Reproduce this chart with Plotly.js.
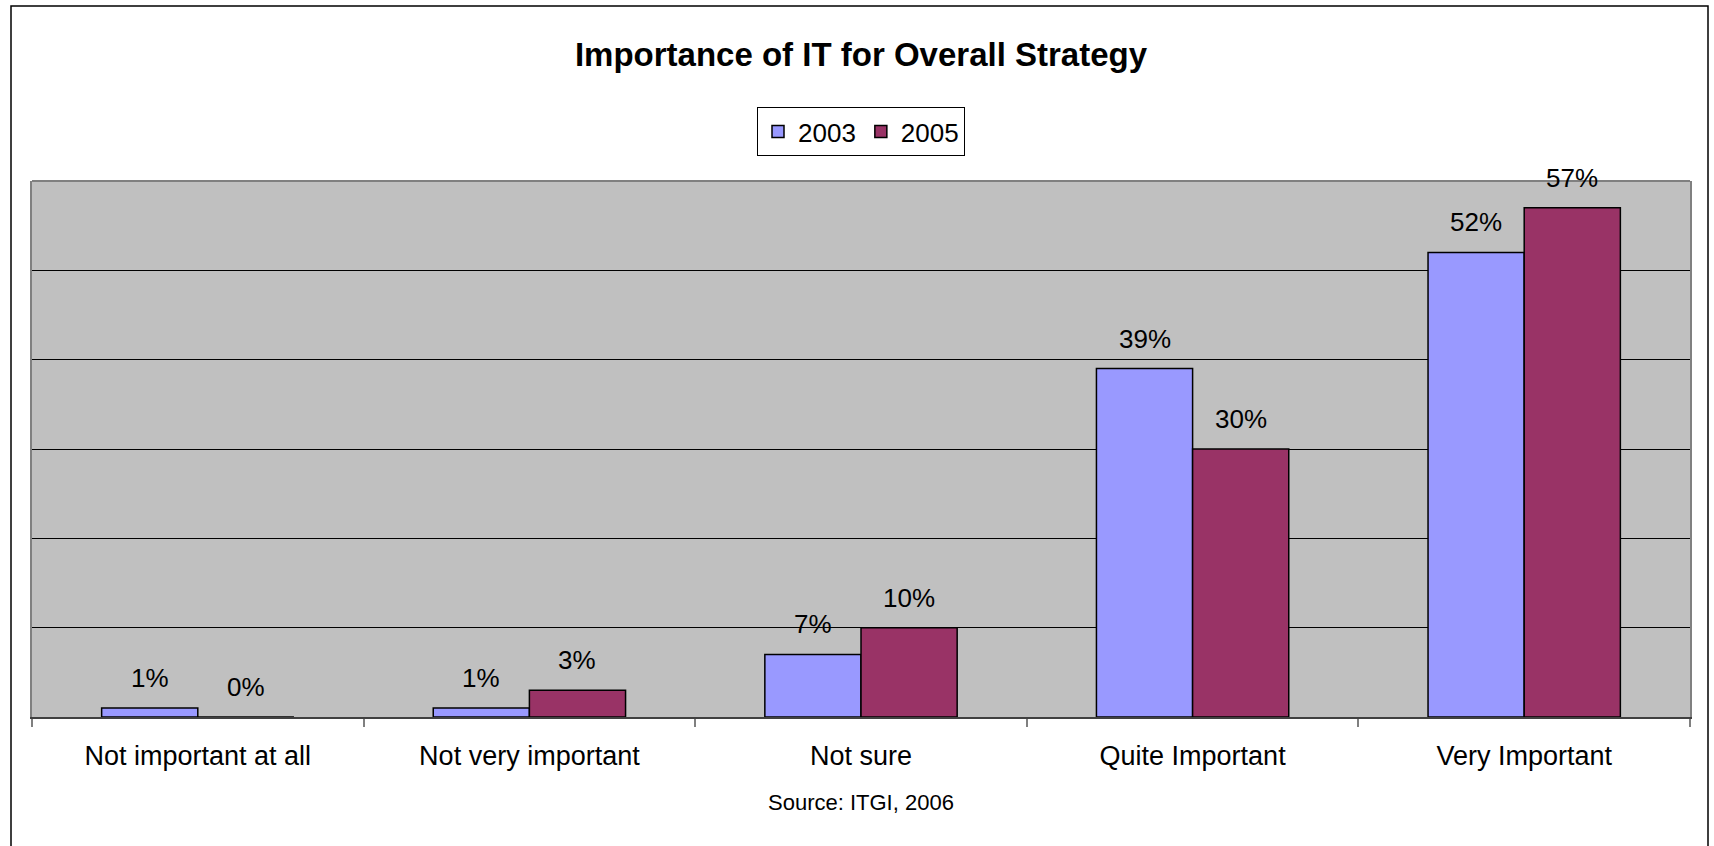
<!DOCTYPE html>
<html>
<head>
<meta charset="utf-8">
<script src="https://cdn.plot.ly/plotly-3.0.1.min.js"></script>
<style>
  html, body { margin: 0; padding: 0; background: #ffffff; overflow: hidden; }
  #chart { width: 1714px; height: 846px; }
</style>
</head>
<body>
<div id="chart"></div>
<script>
const categories = ["Not important at all", "Not very important", "Not sure", "Quite Important", "Very Important"];
const seriesNames = ["2003", "2005"];
const values2003 = [1, 1, 7, 39, 52];
const values2005 = [0, 3, 10, 30, 57];
const seriesColors = ["#9999FF", "#993366"];
const chartTitle = "Importance of IT for Overall Strategy";
const sourceText = "Source: ITGI, 2006";

const FONT = "Liberation Sans, Arial, sans-serif";
const bargap = 0.42;
const seriesValues = [values2003, values2005];

const ML = 32, MR = 24, MT = 181, MB = 129, W = 1714, H = 846;
const PW = W - ML - MR, PH = H - MT - MB;

const traces = seriesValues.map((vals, s) => ({
  type: "bar",
  name: seriesNames[s],
  x: categories,
  y: vals,
  marker: {
    color: seriesColors[s],
    line: { color: "#000000", width: 1.5 }
  },
  hoverinfo: "x+y+name"
}));

// data labels above each bar
const annotations = [];
const barW = (1 - bargap) / seriesValues.length;
seriesValues.forEach((vals, s) => {
  const off = -((1 - bargap) / 2) + barW * (s + 0.5);
  vals.forEach((v, i) => {
    annotations.push({
      x: i + off, y: v, xref: "x", yref: "y",
      text: v + "%", showarrow: false,
      yanchor: "middle", yshift: 30,
      font: { family: FONT, size: 26, color: "#000000" }
    });
  });
});
annotations.push({
  xref: "paper", yref: "paper", x: 0.5, y: (717 - 802) / PH,
  text: sourceText, showarrow: false, xanchor: "center", yanchor: "middle",
  font: { family: FONT, size: 22, color: "#000000" }
});

const layout = {
  width: W, height: H,
  margin: { l: ML, r: MR, t: MT, b: MB },
  paper_bgcolor: "#ffffff",
  plot_bgcolor: "#C0C0C0",
  font: { family: FONT, color: "#000000" },
  title: {
    text: "<b>" + chartTitle + "</b>",
    font: { family: FONT, size: 33, color: "#000000" },
    x: 0.5, xref: "paper", xanchor: "center",
    y: 0.9355, yref: "container", yanchor: "middle"
  },
  barmode: "group",
  bargap: bargap,
  bargroupgap: 0,
  showlegend: true,
  legend: {
    orientation: "h",
    x: 0.5, xanchor: "center",
    y: (717 - 107) / PH, yanchor: "top",
    bgcolor: "#ffffff", bordercolor: "#000000", borderwidth: 1,
    font: { family: FONT, size: 26, color: "#000000" },
    itemwidth: 30,
    itemclick: false, itemdoubleclick: false
  },
  xaxis: {
    type: "category",
    showgrid: false,
    showline: true, mirror: false, linecolor: "#404040", linewidth: 2,
    ticks: "outside", tickson: "boundaries", ticklen: 8, tickcolor: "#808080", tickwidth: 1.5,
    ticklabelstandoff: 14,
    tickfont: { family: FONT, size: 27, color: "#000000" },
    fixedrange: true
  },
  yaxis: {
    range: [0, 60], dtick: 10,
    showgrid: true, gridcolor: "#000000", gridwidth: 1,
    zeroline: false,
    showline: true, mirror: true, linecolor: "#808080", linewidth: 2,
    showticklabels: false, ticks: "",
    fixedrange: true
  },
  annotations: annotations,
  shapes: [
    {
      type: "line", xref: "paper", yref: "paper",
      x0: 0, x1: 1, y0: 1, y1: 1,
      line: { color: "#808080", width: 2 }, layer: "above"
    },
    {
      type: "rect", xref: "paper", yref: "paper",
      x0: (11 - ML) / PW, x1: (1708 - ML) / PW,
      y0: (717 - 860) / PH, y1: (717 - 6) / PH,
      line: { color: "#000000", width: 1.5 }, fillcolor: "rgba(0,0,0,0)", layer: "below"
    }
  ]
};

Plotly.newPlot("chart", traces, layout, { displayModeBar: false });
</script>
</body>
</html>
